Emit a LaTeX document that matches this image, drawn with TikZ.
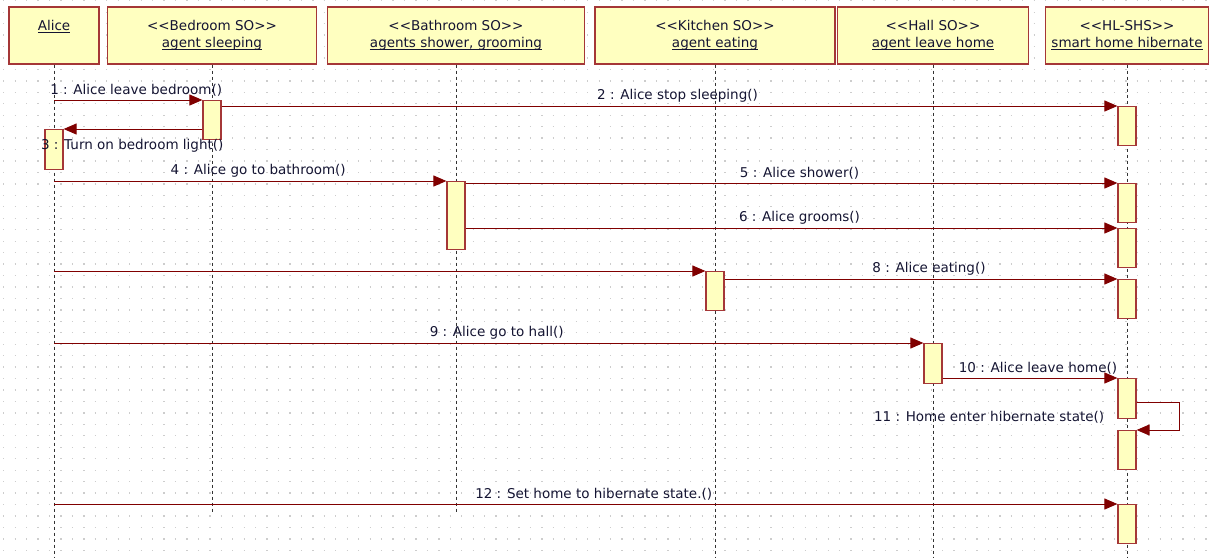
\documentclass[tikz,border=0pt]{standalone}
\usepackage{fontspec}
\setmainfont{DejaVu Sans}
\usepackage{xcolor}
\usepackage{tikz}
\usetikzlibrary{arrows.meta, positioning}

\definecolor{boxfill}{RGB}{255,255,192}
\definecolor{boxedge}{RGB}{165,55,55}
\definecolor{msgred}{RGB}{128,0,0}
\definecolor{inkblue}{RGB}{20,20,50}
\definecolor{dotgray}{RGB}{205,205,205}

% underlined object name, rule through the descenders
\newcommand{\objname}[1]{\setbox0\hbox{#1}\rlap{\rule[-2.2pt]{\wd0}{0.8pt}}\box0}

\begin{document}
\begin{tikzpicture}[
    x=1pt, y=-1pt,
    every node/.style={font=\fontsize{13.5}{17.5}\selectfont, text=inkblue},
    obj/.style={draw=boxedge, line width=1.4pt, fill=boxfill, minimum height=57pt, inner sep=0pt},
    objtxt/.style={anchor=north, align=center, inner sep=0pt, yshift=-13.5pt},
    act/.style={draw=boxedge, line width=1.2pt, fill=boxfill, minimum width=18pt, minimum height=39pt, inner sep=0pt, anchor=north},
    life/.style={dash pattern=on 3pt off 3pt, line width=1pt, black!80},
    msg/.style={draw=msgred, line width=1pt, -{Triangle[length=13pt, width=11pt]}},
    lbl/.style={above, inner sep=3.5pt, xshift=8pt},
    griddot/.style={dotgray, line width=1.3pt, dash pattern=on 1.3pt off 10.15pt},
]
\useasboundingbox (0,0) rectangle (1211,558);

% === DOT GRID ===
\foreach \gy in {0.7,12.15,...,558}
    \draw[griddot] (3.1,\gy) -- (1211,\gy);

% === OBJECTS ===
\node[obj, minimum width=90pt] (alice) at (54,35.5) {};
\node[objtxt] at (alice.north) {\objname{Alice}};
\node[obj, minimum width=209pt] (bedroom) at (212,35.5) {};
\node[objtxt] at (bedroom.north) {<{}<Bedroom SO>{}>\\\objname{agent sleeping}};
\node[obj, minimum width=257pt] (bathroom) at (456,35.5) {};
\node[objtxt] at (bathroom.north) {<{}<Bathroom SO>{}>\\\objname{agents shower, grooming}};
\node[obj, minimum width=240pt] (kitchen) at (715,35.5) {};
\node[objtxt] at (kitchen.north) {<{}<Kitchen SO>{}>\\\objname{agent eating}};
\node[obj, minimum width=191pt] (hall) at (933,35.5) {};
\node[objtxt] at (hall.north) {<{}<Hall SO>{}>\\\objname{agent leave home}};
\node[obj, minimum width=163pt] (shs) at (1127,35.5) {};
\node[objtxt] at (shs.north) {<{}<HL-SHS>{}>\\\objname{smart home hibernate}};

% lifelines
\draw[life] (alice.south) -- (alice |- 0,558);
\draw[life] (bedroom.south) -- (bedroom |- 0,512);
\draw[life] (bathroom.south) -- (bathroom |- 0,512);
\draw[life] (kitchen.south) -- (kitchen |- 0,558);
\draw[life] (hall.south) -- (hall |- 0,558);
\draw[life] (shs.south) -- (shs |- 0,558);

% === ACTIVATIONS ===
\node[act] (bed1) at (bedroom |- 0,100) {};
\node[act, minimum height=40pt] (al1) at (alice |- 0,129) {};
\node[act] (h1) at (shs |- 0,106) {};
\node[act, minimum height=68pt] (bath1) at (bathroom |- 0,181) {};
\node[act] (h2) at (shs |- 0,183) {};
\node[act] (h3) at (shs |- 0,228) {};
\node[act] (kit1) at (kitchen |- 0,271) {};
\node[act] (h4) at (shs |- 0,279) {};
\node[act, minimum height=40pt] (hall1) at (hall |- 0,343) {};
\node[act, minimum height=40pt] (h5) at (shs |- 0,378) {};
\node[act] (h6) at (shs |- 0,430) {};
\node[act] (h7) at (shs |- 0,504) {};

% === MESSAGES ===
\draw[msg] (bed1.north west -| alice) -- node[lbl] {1 : Alice leave bedroom()} (bed1.north west);
\draw[msg] (h1.north west -| bed1.east) -- node[lbl] {2 : Alice stop sleeping()} (h1.north west);
\draw[msg] (al1.north east -| bed1.west) -- (al1.north east)
    node[at end, anchor=north west, inner sep=0pt, xshift=-23pt, yshift=-9.5pt] {3 : Turn on bedroom light()};
\draw[msg] (bath1.north west -| alice) -- node[lbl] {4 : Alice go to bathroom()} (bath1.north west);
\draw[msg] (h2.north west -| bath1.east) -- node[lbl] {5 : Alice shower()} (h2.north west);
\draw[msg] (h3.north west -| bath1.east) -- node[lbl] {6 : Alice grooms()} (h3.north west);
\draw[msg] (kit1.north west -| alice) -- (kit1.north west);
\draw[msg] (h4.north west -| kit1.east) -- node[lbl] {8 : Alice eating()} (h4.north west);
\draw[msg] (hall1.north west -| alice) -- node[lbl] {9 : Alice go to hall()} (hall1.north west);
\draw[msg] (h5.north west -| hall1.east) -- node[lbl] {10 : Alice leave home()} (h5.north west);

% self call
\coordinate (turn) at ([xshift=43pt, yshift=-24pt]h5.north east);
\draw[msg] (turn -| h5.east) -- (turn) |- (h6.north east);
\node[left=13pt of h5.south west, inner sep=0pt, yshift=2pt] (selflbl) {11 : Home enter hibernate state()};

\draw[msg] (h7.north west -| alice) -- node[lbl] {12 : Set home to hibernate state.()} (h7.north west);

\end{tikzpicture}
\end{document}
